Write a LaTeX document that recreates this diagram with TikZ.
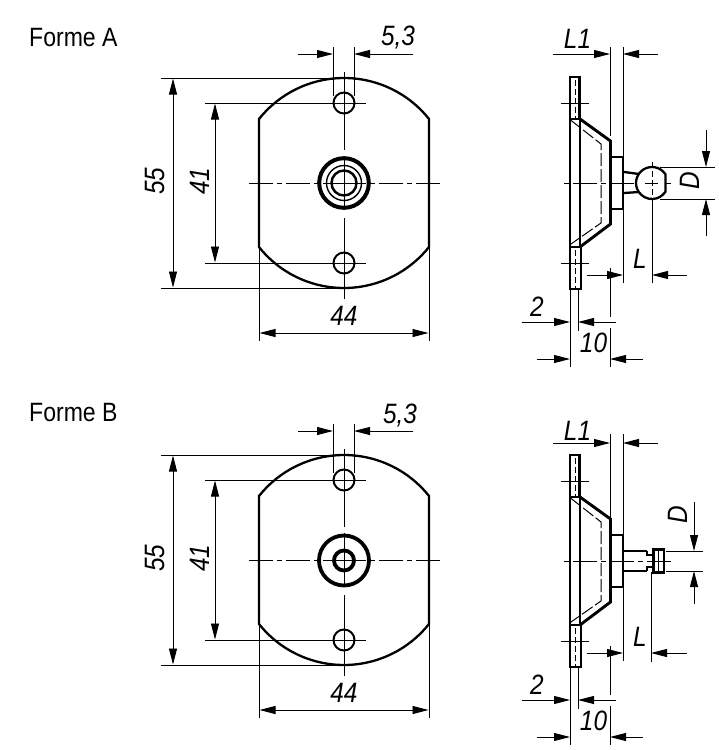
\documentclass[tikz,border=0pt]{standalone}
\usepackage{fontspec}
\setmainfont[FakeStretch=0.87]{Liberation Sans}
\usetikzlibrary{arrows.meta}
\tikzset{
  thin line/.style={line width=0.95pt,black},
  dimtip/.style={thin line,-{Triangle[length=16pt,width=8pt]}},
  bothtip/.style={thin line,{Triangle[length=16pt,width=8pt]}-{Triangle[length=16pt,width=8pt]}},
  outline/.style={line width=2.3pt,black,line join=miter},
  heavy/.style={line width=2.9pt,black},
  centerdash/.style={thin line,dash pattern=on 24pt off 4pt on 5pt off 4pt},
  hidden/.style={line width=1pt,black,dash pattern=on 13pt off 3pt},
  dimlabel/.style={inner sep=0pt,font=\fontsize{28}{28}\selectfont\itshape},
  title/.style={inner sep=0pt,anchor=west,font=\fontsize{26.5}{26.5}\selectfont},
}
% horizontal dimension: y, free left, arrow left, arrow right, free right
\newcommand{\dimH}[5]{%
  \draw[dimtip] (#2,#1) -- (#3,#1);
  \draw[dimtip] (#5,#1) -- (#4,#1);}
% vertical dimension: x, free top, arrow top, arrow bottom, free bottom
\newcommand{\dimV}[5]{%
  \draw[dimtip] (#1,#2) -- (#1,#3);
  \draw[dimtip] (#1,#5) -- (#1,#4);}
\newcommand{\frontview}{%
  \draw[outline] (259,119) -- (259,247) arc[start angle=218.5,end angle=321.5,radius=108.6pt]
     -- (429,119) arc[start angle=38.5,end angle=141.5,radius=108.6pt] -- cycle;
  \draw[outline,line width=2pt] (344,103) circle[radius=10.5pt];
  \draw[outline,line width=2pt] (344,263) circle[radius=10.5pt];
  % centre lines
  \draw[thin line] (344,72) -- (344,150) (344,156) -- (344,210) (344,218) -- (344,299);
  \draw[centerdash] (249,183) -- (344,183);
  \draw[centerdash] (440,183) -- (344,183);
  % extension lines
  \draw[thin line] (161,78) -- (344,78);
  \draw[thin line] (161,288) -- (344,288);
  \draw[thin line] (205,103) -- (366,103);
  \draw[thin line] (205,263) -- (366,263);
  \draw[bothtip] (173,78.5) -- (173,287.5);
  \draw[bothtip] (215,103.5) -- (215,262.5);
  % width
  \draw[thin line] (259,247) -- (259,341);
  \draw[thin line] (429,247) -- (429,341);
  \draw[bothtip] (259.5,333) -- (428.5,333);
  % hole width
  \draw[thin line] (333,47) -- (333,96);
  \draw[thin line] (354,47) -- (354,96);
  \dimH{54}{298}{333}{354}{413}
}
\newcommand{\sideview}{%
  % plate
  \draw[outline] (570,119) -- (570,77) -- (579.5,77) -- (579.5,119);
  \draw[outline] (570,247) -- (570,289) -- (581,289) -- (581,247);
  \draw[heavy] (570,119) -- (570,247);
  \draw[heavy] (580,119) -- (580,247);
  \draw[outline] (570,119) -- (580,119);
  \draw[outline] (570,247) -- (580,247);
  % cone
  \draw[heavy] (580,119) -- (610.5,141) -- (610.5,224) -- (580,247);
  % hidden contour
  \draw[hidden] (570.5,120) -- (601,144) -- (601,223) -- (571,244);
  % centre marks
  \draw[thin line] (561,103) -- (589,103);
  \draw[thin line] (561,263) -- (589,263);
  \draw[thin line,dash pattern=on 6pt off 3pt] (575,80) -- (575,118);
  \draw[thin line,dash pattern=on 6pt off 3pt] (575,250) -- (575,288);
  % hub
  \draw[outline] (611,157) -- (622.5,157);
  \draw[outline] (611,209) -- (622.5,209);
  \draw[heavy] (623,156) -- (623,210);
}
\newcommand{\sidedims}{%
  % 2 and 10
  \draw[thin line] (570,289) -- (570,367);
  \draw[thin line] (578,289) -- (578,331);
  \draw[thin line] (610,268) -- (610,317);
  \draw[thin line] (610,328) -- (610,367);
  \dimH{322}{522}{570}{578}{616}
  \dimH{359}{537}{570}{610}{643}
  % L left extension
  \draw[thin line] (623,209) -- (623,283);
}
\begin{document}
\begin{tikzpicture}[x=1pt,y=-1pt]
\useasboundingbox (0,0) rectangle (719,750);
\node[title] (formeA) at (29,38) {Forme A};
\node[title] (formeB) at (29,413) {Forme B};

%% Forme A front
\frontview
\draw[line width=4pt] (344,183) circle[radius=24.8pt];
\draw[line width=1.4pt] (344,183) circle[radius=17.5pt];
\draw[line width=2.4pt] (344,183) circle[radius=12.5pt];
\node[dimlabel] (a53) at (398,38) {5,3};
\node[dimlabel,rotate=90] (a55) at (155,181) {55};
\node[dimlabel,rotate=90] (a41) at (200,181) {41};
\node[dimlabel] (a44) at (344,316) {44};

%% Forme A side
\sideview
\sidedims
\draw[thin line] (610,47) -- (610,136);
\draw[thin line] (623,47) -- (623,157);
\dimH{54}{553}{610}{623}{658}
\draw[centerdash] (671,183) -- (561,183);
% stem and ball
\draw[outline] (624,172) -- (639,174);
\draw[outline] (624,193) -- (639,192);
\draw[outline,fill=white] (665.5,174.4) arc[start angle=32.5,end angle=327.5,radius=16pt] -- cycle;
\draw[thin line,dash pattern=on 6pt off 3pt] (652,162) -- (652,199);
\draw[thin line] (652,199) -- (652,283);
\draw[thin line] (645,183) -- (658,183);
\dimH{275}{587}{623}{652}{687}
\draw[thin line] (660,167) -- (715,167);
\draw[thin line] (660,199) -- (715,199);
\dimV{706}{130}{167}{199}{236}
\node[dimlabel] (aL1) at (577.5,39) {L1};
\node[dimlabel] (aL) at (640,259) {L};
\node[dimlabel,rotate=90] (aD) at (690,181) {D};
\node[dimlabel] (a2) at (537,307) {2};
\node[dimlabel] (a10) at (593.5,343) {10};

%% Forme B front
\begin{scope}[shift={(0,377)}]
\frontview
\draw[line width=3.8pt] (344,183.5) circle[radius=25pt];
\draw[line width=3.8pt] (344,183.5) circle[radius=10pt];
\end{scope}
\node[dimlabel] (b53) at (400,416) {5,3};
\node[dimlabel,rotate=90] (b55) at (155,558) {55};
\node[dimlabel,rotate=90] (b41) at (200,558) {41};
\node[dimlabel] (b44) at (344,693) {44};

%% Forme B side
\begin{scope}[shift={(0,378)}]
\sideview
\sidedims
\end{scope}
\draw[thin line] (610,434) -- (610,517);
\draw[thin line] (623,434) -- (623,535);
\dimH{443}{553}{610}{623}{658}
\draw[centerdash] (671,561) -- (561,561);
% stem and knurled head
\draw[outline] (624,551) -- (647,551);
\draw[outline] (624,571) -- (647,571);
\draw[outline] (647,551) -- (647,555) -- (653,555);
\draw[outline] (647,571) -- (647,567) -- (653,567);
\draw[outline] (653.5,549.5) -- (664,549.5) -- (664,572.5) -- (653.5,572.5) -- cycle;
\draw[thin line] (658,550) -- (658,572);
\draw[thin line] (651,572) -- (651,662);
\dimH{653}{587}{623}{651}{687}
\draw[thin line] (666,551) -- (703,551);
\draw[thin line] (666,571) -- (703,571);
\dimV{694}{502}{551}{571}{604}
\node[dimlabel] (bL1) at (577.5,431) {L1};
\node[dimlabel] (bL) at (640,637) {L};
\node[dimlabel,rotate=90] (bD) at (678,514.5) {D};
\node[dimlabel] (b2) at (537,685) {2};
\node[dimlabel] (b10) at (593.5,721) {10};
\end{tikzpicture}
\end{document}
